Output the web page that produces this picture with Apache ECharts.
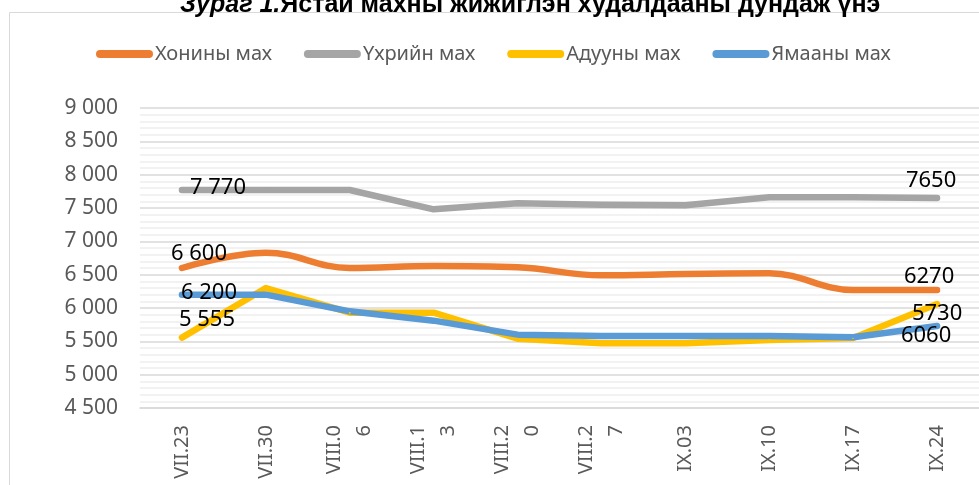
<!DOCTYPE html>
<html>
<head>
<meta charset="utf-8">
<script src="https://cdn.jsdelivr.net/npm/echarts@6/dist/echarts.min.js"></script>
<style>
  html, body { margin: 0; padding: 0; background: #fff; }
  #chart { width: 979px; height: 485px; }
</style>
</head>
<body>
<div id="chart"></div>
<script>
// weekly dates (Excel wrapped the long ones onto two lines)
const categories = ['VII.23', 'VII.30', 'VIII.0\n6', 'VIII.1\n3', 'VIII.2\n0', 'VIII.2\n7', 'IX.03', 'IX.10', 'IX.17', 'IX.24'];

const sheep = [6600, 6830, 6600, 6630, 6610, 6490, 6510, 6520, 6270, 6270];
const beef  = [7770, 7770, 7770, 7480, 7570, 7550, 7540, 7660, 7660, 7650];
const horse = [5555, 6300, 5930, 5930, 5540, 5470, 5470, 5520, 5550, 6060];
const goat  = [6200, 6200, 5950, 5810, 5600, 5580, 5580, 5580, 5560, 5730];

// data labels as typed in the source chart (only first and last points)
const sheepLabels = ['6 600', '', '', '', '', '', '', '', '', '6270'];
const beefLabels  = ['7 770', '', '', '', '', '', '', '', '', '7650'];
const horseLabels = ['5 555', '', '', '', '', '', '', '', '', '5730'];
const goatLabels  = ['6 200', '', '', '', '', '', '', '', '', '6060'];

const seriesNames = ['Хонины мах', 'Үхрийн мах', 'Адууны мах', 'Ямааны мах'];

const yMin = 4500;
const yMax = 9000;
const yStep = 500;

const chart = echarts.init(document.getElementById('chart'));

const labelOffsets = {
  sheep: [[17, -14], [-8, -13]],
  beef:  [[36, -2], [-6, -17]],
  horse: [[25, -18], [0, 10]],
  goat:  [[27, -2], [-11, 10]]
};

function buildSeries(name, values, labels, color, smooth, offsets) {
  return {
    name: name,
    type: 'line',
    smooth: smooth,
    color: color,
    symbol: 'circle',
    symbolSize: 2,
    showSymbol: true,
    lineStyle: { width: 6.5, color: color, cap: 'round', join: 'round' },
    itemStyle: { color: color },
    emphasis: { disabled: true },
    data: values.map((v, i) => {
      if (!labels[i]) return v;
      const off = i === 0 ? offsets[0] : offsets[1];
      return {
        value: v,
        label: {
          show: true,
          formatter: labels[i],
          position: 'inside',
          offset: off,
          color: '#000',
          fontSize: 22,
          fontFamily: 'Noto Sans'
        }
      };
    })
  };
}

const fmt = v => String(v).replace(/\B(?=(\d{3})+(?!\d))/g, ' ');

const option = {
  animation: false,
  backgroundColor: '#fff',
  title: {
    text: '{a|Зураг 1.}{b|Ястай махны жижиглэн худалдааны дундаж үнэ}',
    left: 175,
    top: -12,
    textStyle: {
      rich: {
        a: { fontFamily: 'Liberation Sans', fontSize: 25, fontWeight: 'bold', fontStyle: 'italic', color: '#000' },
        b: { fontFamily: 'Liberation Sans', fontSize: 25, color: '#000' }
      }
    }
  },
  graphic: [{
    type: 'rect',
    shape: { x: 9.5, y: 12.5, width: 1000, height: 500 },
    style: { fill: 'none', stroke: '#d9d9d9', lineWidth: 1 },
    silent: true,
    z: -1
  }],
  legend: {
    data: seriesNames,
    left: 91,
    top: 39,
    itemWidth: 57,
    itemHeight: 8,
    itemGap: 32,
    icon: 'path://M4,0 H53 A4,4 0 0 1 53,8 H4 A4,4 0 0 1 4,0 Z',
    textStyle: { color: '#595959', fontSize: 20, fontFamily: 'Noto Sans', padding: [0, 0, 0, -3] }
  },
  grid: { left: 140, right: -10, top: 108, bottom: 77 },
  xAxis: {
    type: 'category',
    data: categories,
    boundaryGap: true,
    axisLine: { lineStyle: { color: '#d9d9d9', width: 1.5 } },
    axisTick: { show: false },
    axisLabel: {
      rotate: 90,
      margin: 17,
      color: '#595959',
      fontSize: 20,
      lineHeight: 30,
      padding: [10, 0, 0, 0],
      fontFamily: 'Noto Sans',
      interval: 0
    }
  },
  yAxis: {
    type: 'value',
    min: yMin,
    max: yMax,
    interval: yStep,
    axisLine: { show: false },
    axisTick: { show: false },
    axisLabel: { color: '#595959', fontSize: 21, fontFamily: 'Noto Sans', margin: 22, formatter: fmt },
    splitLine: { lineStyle: { color: '#d9d9d9', width: 1.5 } },
    minorTick: { show: false, splitNumber: 5 },
    minorSplitLine: { show: true, lineStyle: { color: '#eeeeee', width: 1.5 } }
  },
  series: [
    buildSeries(seriesNames[0], sheep, sheepLabels, '#ED7D31', 0.4, labelOffsets.sheep),
    buildSeries(seriesNames[1], beef, beefLabels, '#A5A5A5', false, labelOffsets.beef),
    buildSeries(seriesNames[2], horse, horseLabels, '#FFC000', false, labelOffsets.horse),
    buildSeries(seriesNames[3], goat, goatLabels, '#5B9BD5', false, labelOffsets.goat)
  ]
};

chart.setOption(option);
window.addEventListener('resize', () => chart.resize());
</script>
</body>
</html>
